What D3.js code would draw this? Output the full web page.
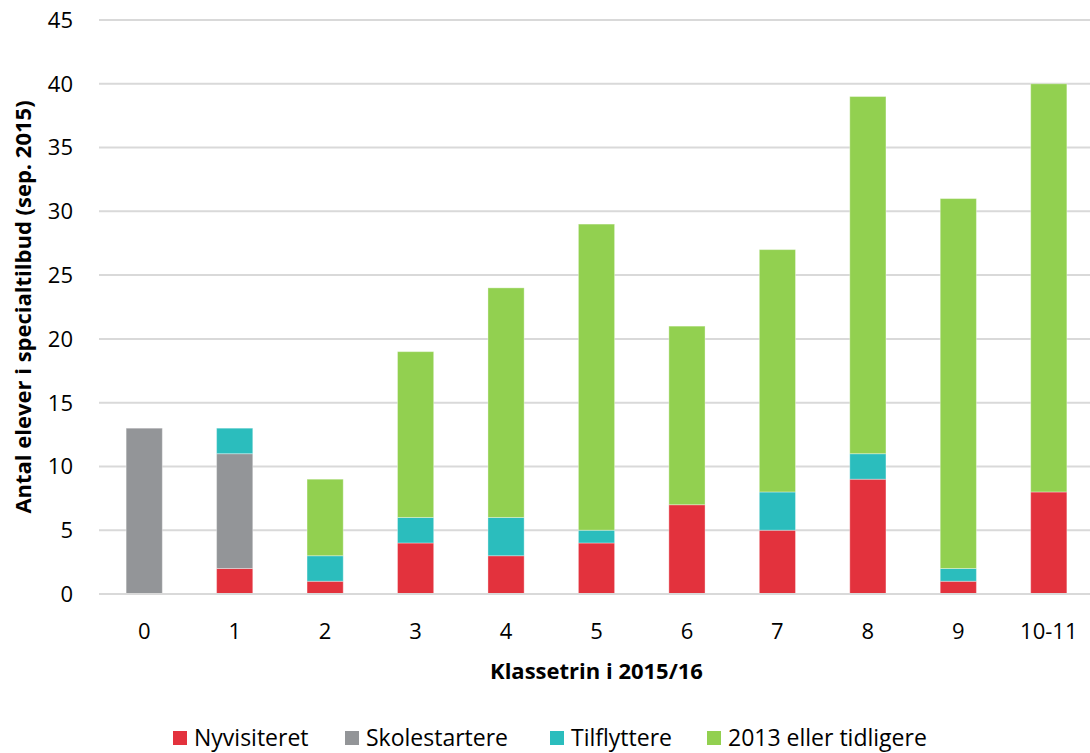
<!DOCTYPE html>
<html>
<head>
<meta charset="utf-8">
<script src="https://cdn.jsdelivr.net/npm/d3@7"></script>
<style>
  body { margin: 0; background: #fff; }
  svg { display: block; font-family: "Open Sans", Lato, sans-serif; }
</style>
</head>
<body>
<svg id="chart" width="1090" height="753"></svg>
<script>
// data
var categories = ["0", "1", "2", "3", "4", "5", "6", "7", "8", "9", "10-11"];
var nyvisiteret = [0, 2, 1, 4, 3, 4, 7, 5, 9, 1, 8];
var skolestartere = [13, 9, 0, 0, 0, 0, 0, 0, 0, 0, 0];
var tilflyttere = [0, 2, 2, 2, 3, 1, 0, 3, 2, 1, 0];
var tidligere = [0, 0, 6, 13, 18, 24, 14, 19, 28, 29, 32];
var yTicks = [0, 5, 10, 15, 20, 25, 30, 35, 40, 45];

var seriesNames = ["Nyvisiteret", "Skolestartere", "Tilflyttere", "2013 eller tidligere"];
var seriesKeys = ["ny", "skole", "til", "tid"];
var colors = ["#e3323d", "#939598", "#2bbdbd", "#92d050"];

var rows = categories.map(function(c, i) {
    return { cat: c, ny: nyvisiteret[i], skole: skolestartere[i], til: tilflyttere[i], tid: tidligere[i] };
});

var svg = d3.select("#chart");
var plotL = 99, plotR = 1094, plotT = 20, plotB = 594;

var x = d3.scaleBand()
    .domain(categories)
    .range([plotL, plotR])
    .paddingInner(0.6)
    .paddingOuter(0.3);

var y = d3.scaleLinear()
    .domain([0, 45])
    .range([plotB, plotT]);

// gridlines
svg.append("g")
    .selectAll("line")
    .data(yTicks)
    .enter().append("line")
    .attr("x1", plotL)
    .attr("x2", 1090)
    .attr("y1", function(d) { return y(d); })
    .attr("y2", function(d) { return y(d); })
    .attr("stroke", "#d9d9d9")
    .attr("stroke-width", 2);

// y tick labels
svg.append("g")
    .selectAll("text")
    .data(yTicks)
    .enter().append("text")
    .attr("x", 73)
    .attr("y", function(d) { return y(d); })
    .attr("dy", "0.36em")
    .attr("text-anchor", "end")
    .attr("font-size", 22)
    .attr("fill", "#000")
    .text(function(d) { return d; });

// stacked bars
var stack = d3.stack().keys(seriesKeys);
var layers = stack(rows);

svg.append("g")
    .selectAll("g")
    .data(layers)
    .enter().append("g")
    .attr("fill", function(d, i) { return colors[i]; })
    .selectAll("rect")
    .data(function(d) { return d.filter(function(p) { return p[1] > p[0]; }); })
    .enter().append("rect")
    .attr("x", function(d) { return x(d.data.cat); })
    .attr("width", x.bandwidth())
    .attr("y", function(d) { return y(d[1]); })
    .attr("height", function(d) { return y(d[0]) - y(d[1]); })
    .attr("stroke", "rgba(255,255,255,0.35)")
    .attr("stroke-width", 1);

// baseline over bars
svg.append("line")
    .attr("x1", plotL).attr("x2", 1090)
    .attr("y1", y(0)).attr("y2", y(0))
    .attr("stroke", "#d9d9d9")
    .attr("stroke-width", 2);

// x tick labels
svg.append("g")
    .selectAll("text")
    .data(categories)
    .enter().append("text")
    .attr("x", function(d) { return x(d) + x.bandwidth() / 2; })
    .attr("y", 639)
    .attr("text-anchor", "middle")
    .attr("font-size", 22)
    .text(function(d) { return d; });

// axis titles
svg.append("text")
    .attr("x", (plotL + plotR) / 2)
    .attr("y", 679)
    .attr("text-anchor", "middle")
    .attr("font-size", 22)
    .attr("font-weight", "bold")
    .text("Klassetrin i 2015/16");

svg.append("text")
    .attr("transform", "translate(31," + ((plotT + plotB) / 2) + ") rotate(-90)")
    .attr("text-anchor", "middle")
    .attr("font-size", 22)
    .attr("font-weight", "bold")
    .text("Antal elever i specialtilbud (sep. 2015)");

// legend
var legendX = [173, 345, 550, 707];
var legend = svg.append("g")
    .selectAll("g")
    .data(seriesNames)
    .enter().append("g")
    .attr("transform", function(d, i) { return "translate(" + legendX[i] + ",738)"; });

legend.append("rect")
    .attr("x", 0).attr("y", -7)
    .attr("width", 14).attr("height", 14)
    .attr("fill", function(d, i) { return colors[i]; });

legend.append("text")
    .attr("x", 21)
    .attr("dy", "0.36em")
    .attr("font-size", 23)
    .text(function(d) { return d; });
</script>
</body>
</html>
